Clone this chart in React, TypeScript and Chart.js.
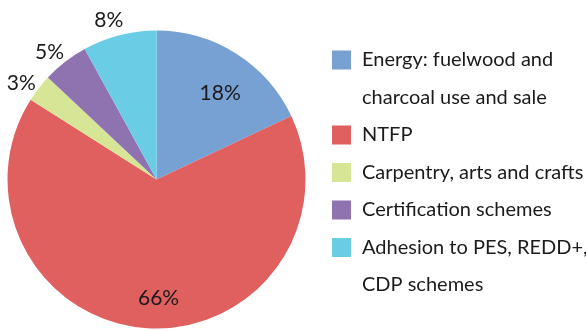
import React, { useEffect, useRef } from "react";
import { Chart, registerables } from "chart.js";

Chart.register(...registerables);

// Shares of forest-related income sources (%)
const categories: string[][] = [
  ["Energy: fuelwood and", "charcoal use and sale"],
  ["NTFP"],
  ["Carpentry, arts and crafts"],
  ["Certification schemes"],
  ["Adhesion to PES, REDD+,", "CDP schemes"],
];
const shares: number[] = [18, 66, 3, 5, 8];
const sliceColors: string[] = ["#77A0D3", "#E06060", "#D6E596", "#8F72B0", "#6BCDE5"];

const FONT = "Lato, 'Open Sans', sans-serif";
const TEXT = "#1c1a1b";

// Percent labels: large slices inside, small slices just outside the rim
const sliceLabels = {
  id: "sliceLabels",
  afterDatasetsDraw(chart: any) {
    const meta = chart.getDatasetMeta(0);
    const ctx = chart.ctx as CanvasRenderingContext2D;
    ctx.save();
    ctx.fillStyle = TEXT;
    ctx.font = `21px ${FONT}`;
    ctx.textAlign = "center";
    ctx.textBaseline = "middle";
    meta.data.forEach((arc: any, i: number) => {
      const { x, y, startAngle, endAngle, outerRadius } = arc.getProps(
        ["x", "y", "startAngle", "endAngle", "outerRadius"],
        true
      );
      const v = shares[i];
      const mid = (startAngle + endAngle) / 2;
      let dist: number;
      let ang: number;
      if (v > 50) {
        dist = outerRadius * 0.8;
        ang = mid - 0.08;
      } else if (v >= 10) {
        dist = outerRadius * 0.72;
        ang = mid + 0.07;
      } else {
        dist = outerRadius + 17;
        ang = mid - 0.04;
      }
      ctx.fillText(`${v}%`, x + Math.cos(ang) * dist, y + Math.sin(ang) * dist);
    });
    ctx.restore();
  },
};

// Legend on the right, one square per category with wrapped label lines
const sideLegend = {
  id: "sideLegend",
  afterDraw(chart: any) {
    const ctx = chart.ctx as CanvasRenderingContext2D;
    const boxX = 332;
    const textX = 362;
    const box = 19;
    const lineH = 37.5;
    let lineY = 60;
    ctx.save();
    ctx.font = `20px ${FONT}`;
    ctx.textBaseline = "middle";
    ctx.textAlign = "left";
    categories.forEach((lines, i) => {
      ctx.fillStyle = sliceColors[i];
      ctx.fillRect(boxX, lineY - box / 2, box, box);
      ctx.fillStyle = TEXT;
      lines.forEach((t) => {
        ctx.fillText(t, textX, lineY);
        lineY += lineH;
      });
    });
    ctx.restore();
  },
};

export default function App() {
  const ref = useRef<HTMLCanvasElement | null>(null);

  useEffect(() => {
    if (!ref.current) return;
    const chart = new Chart(ref.current, {
      type: "pie",
      data: {
        labels: categories,
        datasets: [
          {
            data: shares,
            backgroundColor: sliceColors,
            borderWidth: 0,
          },
        ],
      },
      options: {
        animation: false,
        responsive: false,
        layout: { padding: { left: 7.5, top: 30.5, right: 280.5, bottom: 2.5 } },
        plugins: {
          legend: { display: false },
          tooltip: { enabled: false },
        },
      },
      plugins: [sliceLabels, sideLegend],
    });
    return () => chart.destroy();
  }, []);

  return (
    <div style={{ position: "fixed", left: 0, top: 0, width: 586, height: 331, background: "#fff" }}>
      <canvas ref={ref} width={586} height={331} />
    </div>
  );
}
